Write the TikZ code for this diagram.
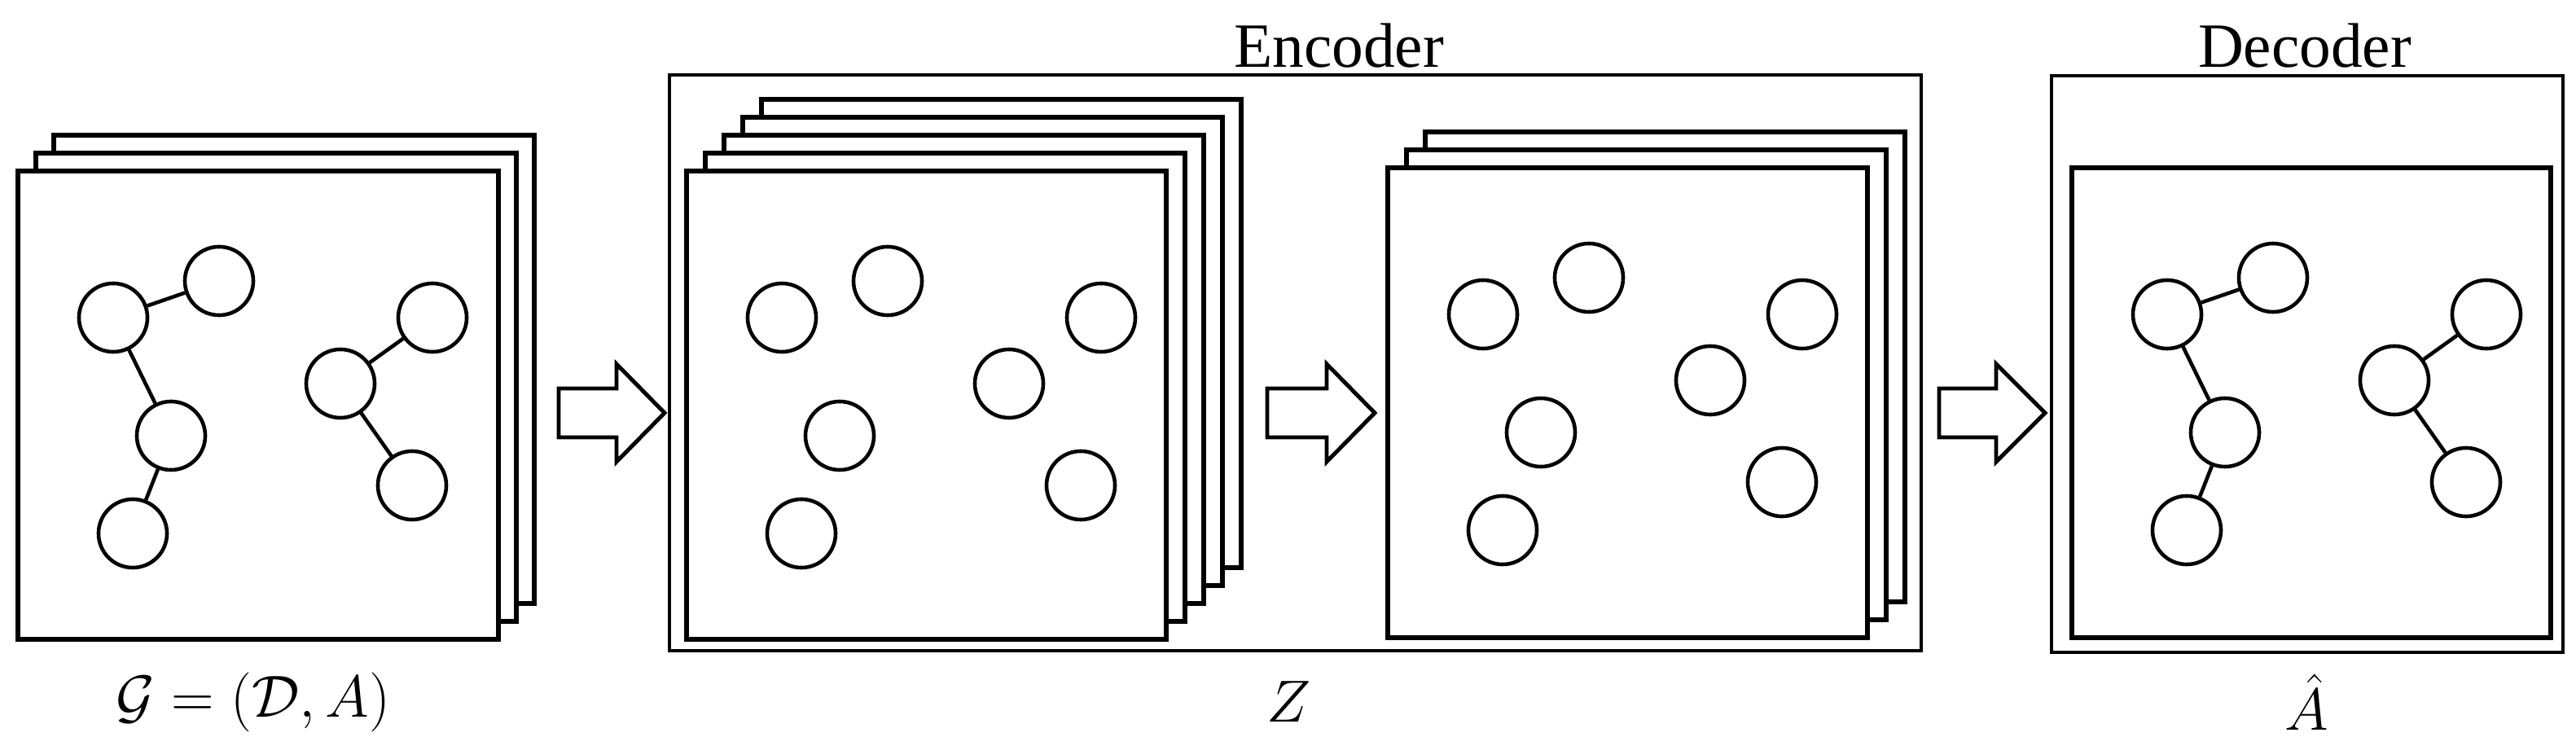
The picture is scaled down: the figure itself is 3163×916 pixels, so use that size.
\documentclass[tikz,border=0pt]{standalone}
\usepackage{fontspec}
\setmainfont{Liberation Serif}
\usepackage{tikz}
\begin{document}
\begin{tikzpicture}[x=0.01cm,y=-0.01cm,
    page/.style={draw=black, fill=white, line width=1.5pt},
    box/.style={draw=black, line width=0.9pt},
    vtx/.style={circle, draw=black, line width=1.3pt, minimum size=0.84cm, inner sep=0pt},
    edge/.style={line width=1.3pt},
    bigarrow/.style={draw=black, line width=1.4pt, fill=white},
    lbl/.style={font=\fontsize{22}{26}\selectfont, inner sep=0pt}
  ]
\useasboundingbox (0,0) rectangle (3163,916);

% graph nodes inside a page whose top-left corner is (#1,#2), names prefixed by #3
\newcommand{\gnodes}[3]{%
  \node[vtx] (#3a) at (#1+117,#2+180) {};
  \node[vtx] (#3b) at (#1+247,#2+135) {};
  \node[vtx] (#3c) at (#1+188,#2+325) {};
  \node[vtx] (#3d) at (#1+141,#2+445) {};
  \node[vtx] (#3e) at (#1+396,#2+261) {};
  \node[vtx] (#3f) at (#1+509,#2+180) {};
  \node[vtx] (#3g) at (#1+484,#2+386) {};
}
\newcommand{\gedges}[1]{%
  \draw[edge] (#1a) -- (#1b);
  \draw[edge] (#1a) -- (#1c);
  \draw[edge] (#1c) -- (#1d);
  \draw[edge] (#1e) -- (#1f);
  \draw[edge] (#1e) -- (#1g);
}

% input stack
\foreach \i in {2,1,0}
  \draw[page] (22+22*\i,210-22*\i) rectangle (612+22*\i,785-22*\i);
\gnodes{22}{210}{in}
\gedges{in}
\node[lbl] (gl) at (311,862) {$\mathcal{G}=(\mathcal{D},A)$};

% arrow 1
\draw[bigarrow] (686,477) -- (757,477) -- (757,447) -- (816,507) -- (757,567) -- (757,537) -- (686,537) -- cycle;

% encoder
\draw[box] (822,92) rectangle (2359,799);
\node[lbl] (enc) at (1644,56) {Encoder};
\foreach \i in {4,3,2,1,0}
  \draw[page] (843+23*\i,210-22*\i) rectangle (1432+23*\i,785-22*\i);
\gnodes{843}{210}{ea}
\foreach \i in {2,1,0}
  \draw[page] (1704+23*\i,206-22*\i) rectangle (2293+23*\i,783-22*\i);
\gnodes{1704}{206}{eb}
\node[lbl] (zl) at (1583,862) {$Z$};

% arrow 2
\draw[bigarrow] (1556,477) -- (1629,477) -- (1629,447) -- (1688,507) -- (1629,567) -- (1629,537) -- (1556,537) -- cycle;

% arrow 3
\draw[bigarrow] (2381,477) -- (2451,477) -- (2451,447) -- (2511,507) -- (2451,567) -- (2451,537) -- (2381,537) -- cycle;

% decoder
\draw[box] (2519,93) rectangle (3147,801);
\node[lbl] (dec) at (2830,56) {Decoder};
\draw[page] (2544,206) rectangle (3132,783);
\gnodes{2544}{206}{de}
\gedges{de}
\node[lbl] (al) at (2832,862) {$\hat{A}$};
\end{tikzpicture}
\end{document}
